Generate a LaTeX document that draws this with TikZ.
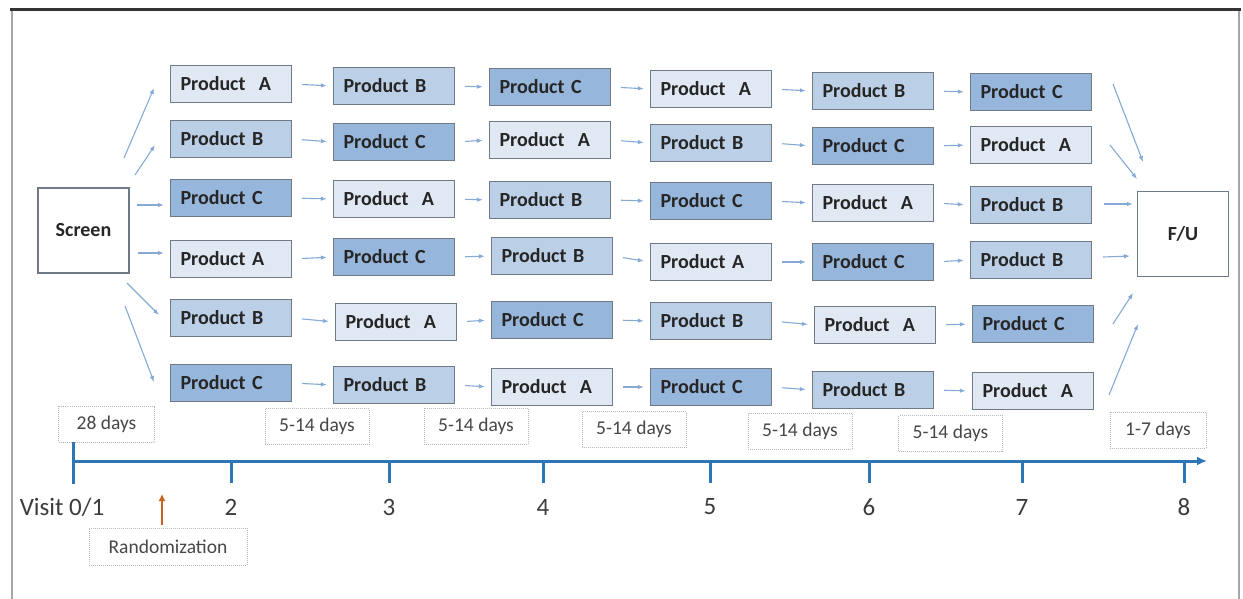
\documentclass[tikz,border=0pt]{standalone}
\usepackage{fontspec}
\setmainfont{Carlito}
\usetikzlibrary{arrows.meta}
\definecolor{pa}{HTML}{DFE8F3}
\definecolor{pb}{HTML}{BBCFE7}
\definecolor{pc}{HTML}{97B6DB}
\definecolor{bord}{HTML}{707A86}
\definecolor{arrc}{HTML}{86AAD6}
\definecolor{axisc}{HTML}{2E75B6}
\definecolor{orangec}{HTML}{C5651F}
\definecolor{txt}{HTML}{262626}
\tikzset{
  prod/.style={draw=bord, line width=1.3pt, minimum height=37pt, text width=101pt,
    inner xsep=10pt, align=left, font=\fontsize{20}{22}\selectfont\bfseries, text=txt},
  pA/.style={prod, fill=pa},
  pB/.style={prod, fill=pb},
  pC/.style={prod, fill=pc},
  endbox/.style={draw=bord, line width=1.2pt, fill=white, minimum width=91pt, minimum height=85pt,
    font=\fontsize{20}{22}\selectfont\bfseries, text=txt},
  arr/.style={draw=arrc, line width=1.1pt, -{Latex[length=6pt,width=4.5pt]}},
  harr/.style={arr, shorten <=10pt, shorten >=6pt},
  daybox/.style={draw=gray!55, densely dotted, line width=1pt, minimum width=96pt, minimum height=36pt,
    font=\fontsize{19.5}{22}\selectfont, text=txt!85},
  ticklab/.style={font=\fontsize{25}{28}\selectfont, text=txt!90},
}
\begin{document}
\begin{tikzpicture}[x=1pt,y=-1pt]
\useasboundingbox (0,0) rectangle (1243,599);
\fill[white] (0,0) rectangle (1243,599);
% frame
\draw[gray!70, line width=1.2pt] (12,10) -- (12,599);
\draw[gray!70, line width=1.2pt] (1239,10) -- (1239,599);
\draw[black!80, line width=3pt] (10,10) -- (1241,10);

% end boxes
\node[endbox] (scr) at (83.5,230.5) {Screen};
\node[endbox] (fu) at (1183,234) {F/U};

% row 1
\node[pA] (r1c1) at (231,84) {Product\ \ A};
\node[pB] (r1c2) at (394,86) {Product B};
\node[pC] (r1c3) at (550,87) {Product C};
\node[pA] (r1c4) at (711,89) {Product\ \ A};
\node[pB] (r1c5) at (873,91) {Product B};
\node[pC] (r1c6) at (1031,92) {Product C};
% row 2
\node[pB] (r2c1) at (231,139) {Product B};
\node[pC] (r2c2) at (394,142) {Product C};
\node[pA] (r2c3) at (550,140) {Product\ \ A};
\node[pB] (r2c4) at (711,143) {Product B};
\node[pC] (r2c5) at (873,146) {Product C};
\node[pA] (r2c6) at (1031,145) {Product\ \ A};
% row 3
\node[pC] (r3c1) at (231,198) {Product C};
\node[pA] (r3c2) at (394,199) {Product\ \ A};
\node[pB] (r3c3) at (550,200) {Product B};
\node[pC] (r3c4) at (711,201) {Product C};
\node[pA] (r3c5) at (873,203) {Product\ \ A};
\node[pB] (r3c6) at (1031,205) {Product B};
% row 4
\node[pA] (r4c1) at (231,259) {Product A};
\node[pC] (r4c2) at (394,257) {Product C};
\node[pB] (r4c3) at (552,256) {Product B};
\node[pA] (r4c4) at (711,262) {Product A};
\node[pC] (r4c5) at (873,262) {Product C};
\node[pB] (r4c6) at (1031,260) {Product B};
% row 5
\node[pB] (r5c1) at (231,318) {Product B};
\node[pA] (r5c2) at (396,322) {Product\ \ A};
\node[pC] (r5c3) at (552,320) {Product C};
\node[pB] (r5c4) at (711,321) {Product B};
\node[pA] (r5c5) at (875,325) {Product\ \ A};
\node[pC] (r5c6) at (1033,324) {Product C};
% row 6
\node[pC] (r6c1) at (231,383) {Product C};
\node[pB] (r6c2) at (394,385) {Product B};
\node[pA] (r6c3) at (552,387) {Product\ \ A};
\node[pC] (r6c4) at (711,387) {Product C};
\node[pB] (r6c5) at (873,390) {Product B};
\node[pA] (r6c6) at (1033,391) {Product\ \ A};

% horizontal arrows
\foreach \r in {1,...,6}{
  \draw[harr] (r\r c1.east) -- (r\r c2.west);
  \draw[harr] (r\r c2.east) -- (r\r c3.west);
  \draw[harr] (r\r c3.east) -- (r\r c4.west);
  \draw[harr] (r\r c4.east) -- (r\r c5.west);
  \draw[harr] (r\r c5.east) -- (r\r c6.west);
}

% arrows from screen
\coordinate (s1a) at (124,158); \coordinate (s1b) at (154,88);
\coordinate (s2a) at (135,175); \coordinate (s2b) at (155,145);
\coordinate (s3a) at (137,205); \coordinate (s3b) at (164,205);
\coordinate (s4a) at (138,253); \coordinate (s4b) at (164,253);
\coordinate (s5a) at (127,283); \coordinate (s5b) at (159,315);
\coordinate (s6a) at (125,306); \coordinate (s6b) at (154,382);
\foreach \i in {1,...,6}{ \draw[arr] (s\i a) -- (s\i b); }

% arrows to F/U
\coordinate (f1a) at (1113,84);  \coordinate (f1b) at (1143,162);
\coordinate (f2a) at (1110,145); \coordinate (f2b) at (1137,179);
\coordinate (f3a) at (1104,204); \coordinate (f3b) at (1133,204);
\coordinate (f4a) at (1103,257); \coordinate (f4b) at (1130,256);
\coordinate (f5a) at (1113,324); \coordinate (f5b) at (1133,293);
\coordinate (f6a) at (1109,395); \coordinate (f6b) at (1138,324);
\foreach \i in {1,...,6}{ \draw[arr] (f\i a) -- (f\i b); }

% day boxes
\node[daybox] (d0) at (106.5,424) {28 days};
\node[daybox, minimum width=104pt] (d1) at (317,426.5) {5-14 days};
\node[daybox, minimum width=104pt] (d2) at (476,426) {5-14 days};
\node[daybox, minimum width=104pt] (d3) at (634,429.5) {5-14 days};
\node[daybox, minimum width=104pt] (d4) at (800,431) {5-14 days};
\node[daybox, minimum width=104pt] (d5) at (950.5,433.5) {5-14 days};
\node[daybox] (d6) at (1158,430) {1-7 days};

% timeline
\coordinate (t0) at (73,461);
\coordinate (tend) at (1207,461);
\draw[axisc, line width=3pt, -{Latex[length=10pt,width=9pt]}] (t0) -- (tend);
\draw[axisc, line width=3pt] (73,442) -- (73,484);
\foreach \x/\l in {231/2,389/3,543/4,710/5,869/6,1022/7,1184/8}{
  \draw[axisc, line width=3pt] (\x,461) -- (\x,483);
  \node[ticklab] at (\x,507) {\l};
}
\node[ticklab] (visit) at (62,507) {Visit 0/1};

% randomization
\node[daybox, minimum width=158pt, minimum height=37pt, font=\fontsize{19.5}{22}\selectfont] (rand) at (168,546.5) {Randomization};
\coordinate (randtip) at (162,494);
\draw[orangec, line width=2pt, -{Latex[length=7pt,width=7pt]}] (162,525) -- (randtip);
\end{tikzpicture}
\end{document}
